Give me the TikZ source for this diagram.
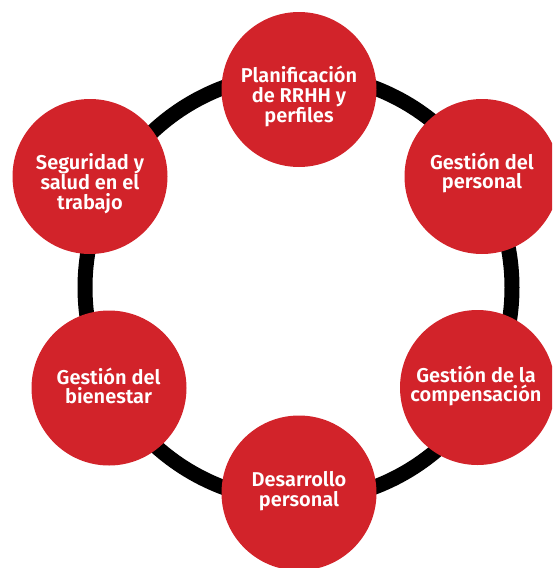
\documentclass[tikz,border=0pt]{standalone}
\usepackage{fontspec}
\setmainfont{Fira Sans}[BoldFont={Fira Sans SemiBold}]
\definecolor{cred}{HTML}{D2232A}
\begin{document}
\begin{tikzpicture}[x=1pt,y=-1pt,
  bubble/.style={circle,fill=cred,draw=none,minimum size=155pt,inner sep=0pt},
  btext/.style={text=white,align=center,inner sep=0pt,font=\fontsize{20}{19.5}\selectfont\bfseries}]
\useasboundingbox (0,0) rectangle (552,568);
\begin{scope}
\clip (0,0) rectangle (552,568);
\draw[line width=15pt] (298.5,287.5) circle[radius=213.5];
\node[bubble] (ctop) at (299,89.5) {};
\node[bubble] (ctr) at (482,176.5) {};
\node[bubble] (cbr) at (477.5,387.5) {};
\node[bubble] (cbot) at (299,493) {};
\node[bubble] (cbl) at (109,388) {};
\node[bubble] (ctl) at (90,176.5) {};
\end{scope}
\node[btext] (ttop) at (299,96.5) {Planificación\\de RRHH y\\perfiles};
\node[btext] (ttr) at (482,173) {Gestión del\\personal};
\node[btext] (tbr) at (476,386) {Gestión de la\\compensación};
\node[btext] (tbot) at (299,491) {Desarrollo\\personal};
\node[btext] (tbl) at (108.6,385.7) {Gestión del\\bienestar};
\node[btext] (ttl) at (90,183.5) {Seguridad y\\salud en el\\trabajo};
\end{tikzpicture}
\end{document}
